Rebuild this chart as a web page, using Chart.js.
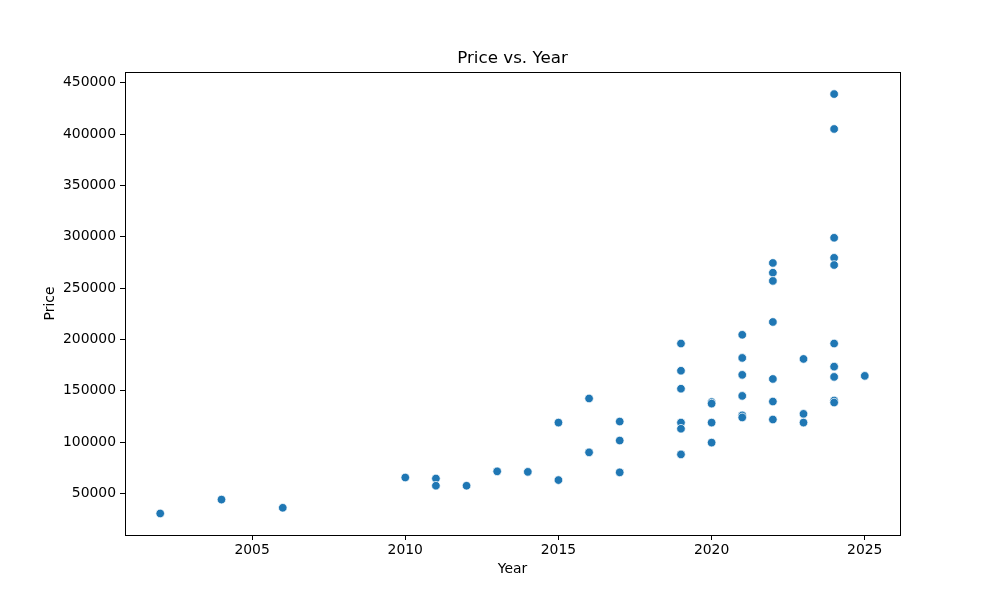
<!DOCTYPE html>
<html>
<head>
<meta charset="utf-8">
<script src="https://cdn.jsdelivr.net/npm/chart.js@4/dist/chart.umd.min.js"></script>
<style>
  html, body { margin: 0; padding: 0; background: #fff; }
  #wrap { width: 1000px; height: 600px; }
</style>
</head>
<body>
<div id="wrap"><canvas id="chart"></canvas></div>
<script>
// values
const years = [
    2002, 2004, 2006, 2010, 2011, 2011, 2012, 2013, 2014, 2015, 2015,
    2016, 2016, 2017, 2017, 2017,
    2019, 2019, 2019, 2019, 2019, 2019,
    2020, 2020, 2020, 2020,
    2021, 2021, 2021, 2021, 2021, 2021,
    2022, 2022, 2022, 2022, 2022, 2022, 2022,
    2023, 2023, 2023,
    2024, 2024, 2024, 2024, 2024, 2024, 2024, 2024, 2024, 2024,
    2025
];
const prices = [
    30500, 44000, 36000, 65500, 64500, 57500, 57500, 71500, 71000, 119000, 63000,
    142500, 90000, 120000, 101500, 70500,
    196000, 169500, 152000, 119000, 113000, 88000,
    139000, 137500, 119000, 99500,
    204500, 182000, 165500, 145000, 126000, 124000,
    274500, 265000, 257000, 217000, 161500, 139500, 122000,
    181000, 127500, 119000,
    439000, 405000, 299000, 279500, 272500, 196000, 173500, 163500, 140500, 138500,
    164500
];
const xTicks = [2005, 2010, 2015, 2020, 2025];
const yTicks = [50000, 100000, 150000, 200000, 250000, 300000, 350000, 400000, 450000];
const chartTitle = 'Price vs. Year';

const FONT = 'DejaVu Sans';

// matplotlib style: box round the axes, title centred over the plot area
const frame = {
    id: 'frame',
    afterDraw(chart) {
        const { ctx, chartArea: a } = chart;
        ctx.save();
        ctx.strokeStyle = '#000';
        ctx.lineWidth = 1;
        ctx.strokeRect(Math.round(a.left) + 0.5, Math.round(a.top) + 0.5,
            Math.round(a.right - a.left), Math.round(a.bottom - a.top));

        ctx.fillStyle = '#000';
        ctx.font = '16.7px "' + FONT + '"';
        ctx.textAlign = 'center';
        ctx.textBaseline = 'middle';
        ctx.fillText(chartTitle, (a.left + a.right) / 2, a.top - 13);
        ctx.restore();
    }
};

const points = years.map((y, i) => ({ x: y, y: prices[i] }));

new Chart(document.getElementById('chart'), {
    type: 'scatter',
    data: {
        datasets: [{
            data: points,
            backgroundColor: '#1f77b4',
            borderColor: '#ffffff',
            borderWidth: 0.75,
            pointRadius: 4.3,
            pointHoverRadius: 4.3,
        }],
    },
    options: {
        responsive: true,
        maintainAspectRatio: false,
        animation: false,
        layout: { padding: { left: 0, right: 100, top: 72, bottom: 0 } },
        plugins: {
            legend: { display: false },
            tooltip: { enabled: false },
        },
        scales: {
            x: {
                type: 'linear',
                min: 2000.85,
                max: 2026.15,
                afterBuildTicks: s => { s.ticks = xTicks.map(v => ({ value: v })); },
                afterFit: s => { s.height = 65; },
                grid: { drawOnChartArea: false, drawTicks: true, tickLength: 5, color: '#000' },
                border: { display: false },
                ticks: {
                    color: '#000',
                    padding: 2,
                    maxRotation: 0,
                    font: { family: FONT, size: 13.9 },
                    callback: v => String(v),
                },
                title: {
                    display: true,
                    text: 'Year',
                    color: '#000',
                    font: { family: FONT, size: 13.9 },
                    padding: { top: 0, bottom: 22 },
                },
            },
            y: {
                type: 'linear',
                min: 9500,
                max: 460500,
                afterBuildTicks: s => { s.ticks = yTicks.map(v => ({ value: v })); },
                afterFit: s => { s.width = 125; },
                grid: { drawOnChartArea: false, drawTicks: true, tickLength: 5, color: '#000' },
                border: { display: false },
                ticks: {
                    color: '#000',
                    padding: 4,
                    font: { family: FONT, size: 13.9 },
                    callback: v => String(v),
                },
                title: {
                    display: true,
                    text: 'Price',
                    color: '#000',
                    font: { family: FONT, size: 13.9 },
                    padding: { top: 42, bottom: 0 },
                },
            },
        },
    },
    plugins: [frame],
});
</script>
</body>
</html>
